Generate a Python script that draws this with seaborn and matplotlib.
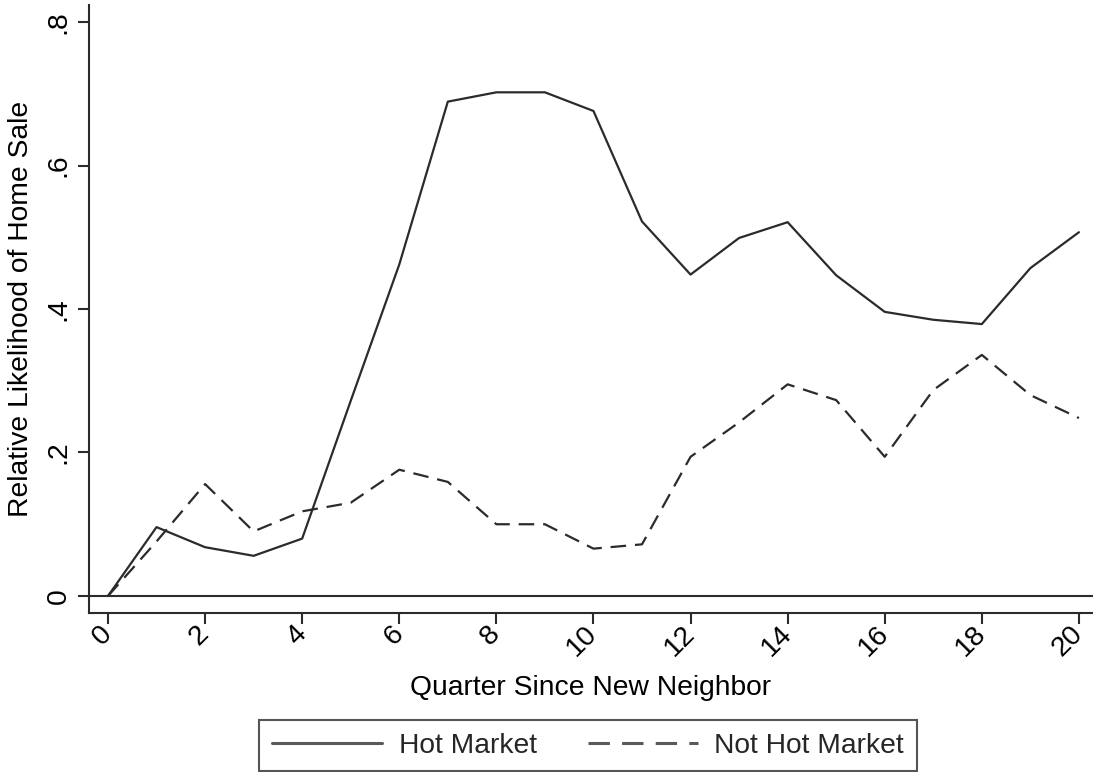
import matplotlib
matplotlib.use("Agg")
import matplotlib.pyplot as plt
import numpy as np
import pandas as pd
import seaborn as sns

# Relative likelihood of a home sale by quarter since a new neighbor arrived
quarters = list(range(21))
hot_market = [0.0, 0.096, 0.068, 0.056, 0.080, 0.272, 0.462, 0.689, 0.702, 0.702,
              0.676, 0.522, 0.448, 0.499, 0.521, 0.447, 0.396, 0.385, 0.379, 0.457, 0.507]
not_hot_market = [0.0, 0.076, 0.156, 0.090, 0.118, 0.130, 0.176, 0.159, 0.100, 0.100,
                  0.066, 0.072, 0.194, 0.242, 0.295, 0.273, 0.194, 0.287, 0.336, 0.280, 0.248]
series_labels = ["Hot Market", "Not Hot Market"]
x_ticks = list(range(0, 21, 2))
x_tick_labels = [str(v) for v in x_ticks]
y_ticks = [0, 0.2, 0.4, 0.6, 0.8]
y_tick_labels = ["0", ".2", ".4", ".6", ".8"]

df = pd.DataFrame({
    "quarter": quarters * 2,
    "value": hot_market + not_hot_market,
    "market": [series_labels[0]] * len(quarters) + [series_labels[1]] * len(quarters),
})

sns.set_theme(style="white")
plt.rcParams["font.family"] = ["Liberation Sans", "DejaVu Sans"]

ink = "#2b2b2b"
fs = 20.3
W, H = 1093, 772
fig = plt.figure(figsize=(W / 100, H / 100), dpi=100)
fig.patch.set_facecolor("white")
ax = fig.add_axes([89 / W, 1 - 613 / H, (W - 89) / W, (613 - 5) / H])

sns.lineplot(
    data=df, x="quarter", y="value", hue="market", style="market",
    palette={series_labels[0]: ink, series_labels[1]: ink},
    dashes={series_labels[0]: "", series_labels[1]: (7, 4)},
    linewidth=1.6, ax=ax, legend=True,
)
ax.axhline(0, color=ink, lw=1.5, zorder=1)

ax.set_xlim(-0.391, 20.29)
ax.set_ylim(-0.0237, 0.8237)
ax.set_xticks(x_ticks)
ax.set_xticklabels(x_tick_labels, rotation=45, ha="right", va="center",
                   rotation_mode="anchor", fontsize=fs)
ax.set_yticks(y_ticks)
ax.set_yticklabels(y_tick_labels, rotation=90, va="center", ha="center", fontsize=fs)

for side in ["top", "right"]:
    ax.spines[side].set_visible(False)
for side in ["left", "bottom"]:
    ax.spines[side].set_color(ink)
    ax.spines[side].set_linewidth(1.5)

ax.tick_params(axis="both", direction="out", length=8, width=1.5, color=ink,
               labelcolor="black", bottom=True, left=True)
ax.tick_params(axis="y", pad=14)
ax.tick_params(axis="x", pad=4)

ax.set_xlabel("Quarter Since New Neighbor", fontsize=fs, color="black", labelpad=10)
ax.set_ylabel("Relative Likelihood of Home Sale", fontsize=fs, color="black", labelpad=8)

handles, labels = ax.get_legend_handles_labels()
ax.get_legend().remove()
leg = fig.legend(
    handles, labels, loc="upper center", bbox_to_anchor=(588 / W, 1 - 720 / H),
    borderaxespad=0, ncol=2, frameon=True, fancybox=False, edgecolor=ink, fontsize=fs,
    handlelength=3.9, columnspacing=1.8, handletextpad=0.6, borderpad=0.45,
)
leg.get_frame().set_linewidth(1.5)
for line in leg.get_lines():
    line.set_color("#5a5a5a")
    line.set_linewidth(2.2)

fig.savefig("out.png", dpi=100, facecolor="white")
